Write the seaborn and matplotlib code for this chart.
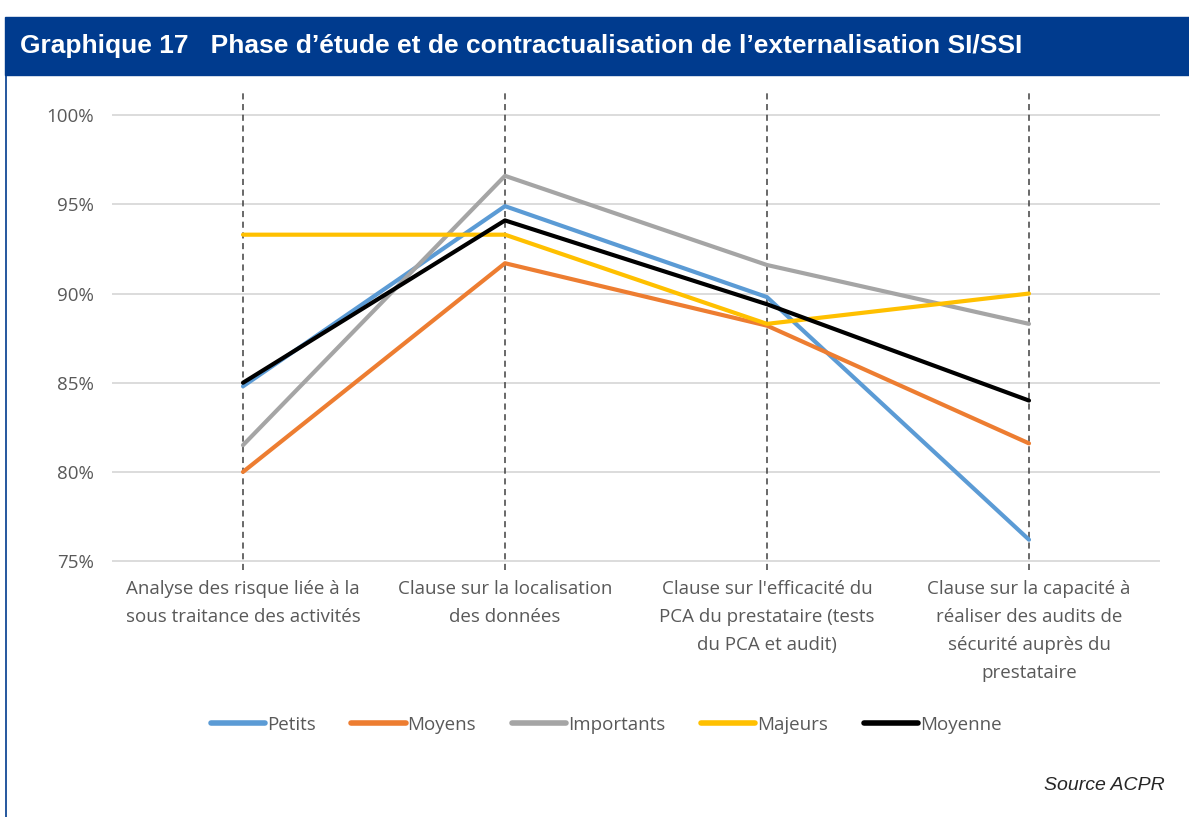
import numpy as np
import pandas as pd
import matplotlib
matplotlib.use("Agg")
import matplotlib.pyplot as plt
import seaborn as sns
from matplotlib.patches import Rectangle
from matplotlib.lines import Line2D

# catégories (axe x) et séries
categories = [
    "Analyse des risque liée à la\nsous traitance des activités",
    "Clause sur la localisation\ndes données",
    "Clause sur l'efficacité du\nPCA du prestataire (tests\ndu PCA et audit)",
    "Clause sur la capacité à\nréaliser des audits de\nsécurité auprès du\nprestataire",
]
petits = [84.8, 94.9, 89.8, 76.2]
moyens = [80.0, 91.7, 88.2, 81.6]
importants = [81.5, 96.6, 91.6, 88.3]
majeurs = [93.3, 93.3, 88.3, 90.0]
moyenne = [85.0, 94.1, 89.4, 84.0]

series_names = ["Petits", "Moyens", "Importants", "Majeurs", "Moyenne"]
colors = ["#5B9BD5", "#ED7D31", "#A5A5A5", "#FFC000", "#000000"]
yticks = [75, 80, 85, 90, 95, 100]

df = pd.DataFrame({
    "pos": list(range(len(categories))) * 5,
    "val": petits + moyens + importants + majeurs + moyenne,
    "serie": sum([[n] * len(categories) for n in series_names], []),
})

sns.set_style("white")
plt.rcParams["font.family"] = ["Open Sans", "DejaVu Sans"]

fig = plt.figure(figsize=(11.89, 8.17), dpi=100)
ax = fig.add_axes([0.0942, 0.3023, 0.8814, 0.5851])

# bandeau du titre
fig.add_artist(Rectangle((5 / 1189, 1 - 75 / 817), 1 - 5 / 1189, 58 / 817,
                         transform=fig.transFigure, color="#003B8E", zorder=0))
fig.add_artist(Line2D([5.5 / 1189, 5.5 / 1189], [0, 1 - 75 / 817],
                      transform=fig.transFigure, color="#003B8E", lw=1.2))
fig.text(20 / 1189, 1 - 46 / 817,
         "Graphique 17   Phase d\u2019étude et de contractualisation de l\u2019externalisation SI/SSI",
         color="white", fontsize=19, fontweight="bold", va="center", ha="left",
         family=["Liberation Sans", "DejaVu Sans"])

for y in yticks:
    ax.axhline(y, color="#D9D9D9", lw=1.3, zorder=0)
for i in range(len(categories)):
    ax.axvline(i, color="#404040", lw=1.1, ls=(0, (4, 3)), zorder=1)

sns.lineplot(data=df, x="pos", y="val", hue="serie", hue_order=series_names,
             palette=colors, linewidth=3, ax=ax, legend=False, zorder=3)

ax.set_xlim(-0.5, len(categories) - 0.5)
ax.set_ylim(74.5, 101.3)
ax.set_yticks(yticks)
ax.set_yticklabels([f"{y}%" for y in yticks], color="#595959", fontsize=13.5)
ax.set_xticks(range(len(categories)))
ax.set_xticklabels(categories, color="#595959", fontsize=13.5, linespacing=1.72, va="top")
ax.tick_params(axis="both", length=0)
ax.tick_params(axis="y", pad=13)
ax.tick_params(axis="x", pad=7)
ax.set_xlabel("")
ax.set_ylabel("")
for s in ax.spines.values():
    s.set_visible(False)

handles = [Line2D([0], [0], color=c, lw=4, solid_capstyle="round") for c in colors]
leg = fig.legend(handles, series_names, loc="center", bbox_to_anchor=(606 / 1189, 1 - 725 / 817),
                 ncol=5, frameon=False, fontsize=13.5, handlelength=2.9, handletextpad=0.1,
                 columnspacing=1.9)
for t in leg.get_texts():
    t.set_color("#595959")

fig.text(1165 / 1189, 1 - 785 / 817, "Source ACPR", ha="right", va="center",
         fontsize=14, style="italic", family=["Liberation Sans", "DejaVu Sans"])

fig.savefig("out.png", dpi=100)
